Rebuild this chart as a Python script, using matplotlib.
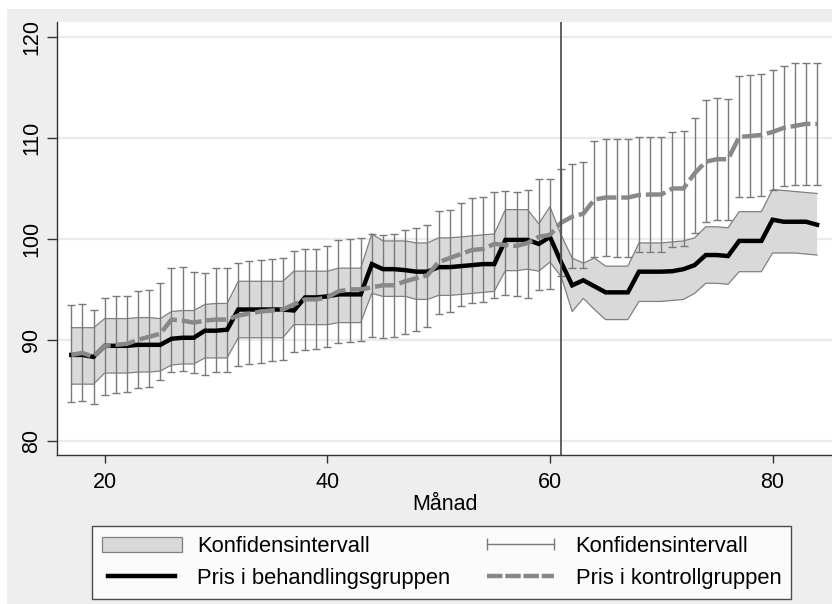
import numpy as np
import matplotlib
matplotlib.use("Agg")
import matplotlib.pyplot as plt
from matplotlib.lines import Line2D
from matplotlib.patches import Patch, Rectangle

plt.rcParams['font.family'] = ['Liberation Sans', 'DejaVu Sans']

# months 17..84
manad = np.arange(17, 85)

# treatment group (black line) and its confidence band
behandling = [88.5, 88.5, 88.3, 89.4, 89.4, 89.4, 89.5, 89.5, 89.5, 90.1,
              90.2, 90.2, 90.9, 90.9, 91.0, 93.0, 93.0, 93.0, 93.0, 93.0,
              92.9, 94.2, 94.2, 94.3, 94.5, 94.5, 94.5, 97.5, 97.0, 97.0,
              96.9, 96.75, 96.75, 97.2, 97.2, 97.3, 97.4, 97.5, 97.5, 99.9,
              99.9, 99.9, 99.5, 100.2, 97.7, 95.4, 95.9, 95.3, 94.7, 94.7,
              94.7, 96.75, 96.75, 96.75, 96.8, 97.0, 97.4, 98.4, 98.4, 98.3,
              99.8, 99.8, 99.8, 101.9, 101.7, 101.7, 101.7, 101.4]
beh_lo = [85.6, 85.6, 85.6, 86.7, 86.7, 86.7, 86.8, 86.8, 86.9, 87.5,
          87.6, 87.6, 88.2, 88.2, 88.2, 90.2, 90.2, 90.2, 90.2, 90.2,
          91.5, 91.5, 91.5, 91.5, 91.7, 91.7, 91.7, 94.6, 94.3, 94.3,
          94.3, 94.0, 94.0, 94.4, 94.4, 94.5, 94.6, 94.7, 94.8, 96.85,
          96.85, 97.0, 96.8, 97.7, 96.3, 92.8, 94.1, 93.0, 92.0, 92.0,
          92.0, 93.8, 93.8, 93.8, 93.9, 94.0, 94.6, 95.6, 95.6, 95.5,
          96.75, 96.75, 96.75, 98.6, 98.6, 98.6, 98.5, 98.4]
beh_hi = [91.2, 91.2, 91.2, 92.1, 92.1, 92.1, 92.2, 92.2, 92.1, 92.8,
          92.9, 92.9, 93.5, 93.6, 93.6, 95.8, 95.8, 95.8, 95.8, 95.8,
          96.8, 96.8, 96.8, 96.8, 97.1, 97.1, 97.1, 100.5, 99.8, 99.8,
          99.8, 99.6, 99.6, 100.1, 100.1, 100.2, 100.3, 100.4, 100.5, 102.9,
          102.9, 102.9, 101.5, 103.2, 100.4, 98.1, 97.6, 98.1, 97.3, 97.3,
          97.3, 99.6, 99.6, 99.6, 99.7, 99.8, 100.1, 101.2, 101.2, 101.1,
          102.7, 102.7, 102.7, 104.9, 104.8, 104.7, 104.6, 104.5]

# control group (gray dashed) and its error bars
kontroll = [88.5, 88.7, 88.3, 89.4, 89.5, 89.6, 90.0, 90.3, 90.6, 92.0,
            91.9, 91.7, 91.9, 92.0, 92.0, 92.4, 92.6, 92.8, 92.9, 93.0,
            93.5, 94.0, 94.0, 94.2, 94.8, 95.0, 95.0, 95.2, 95.4, 95.4,
            95.8, 96.1, 96.4, 97.7, 98.1, 98.5, 98.9, 99.0, 99.5, 99.4,
            99.3, 99.6, 100.2, 100.4, 101.6, 102.2, 102.5, 103.9, 104.1, 104.1,
            104.1, 104.35, 104.4, 104.4, 105.0, 105.0, 106.5, 107.65, 107.9, 107.9,
            110.1, 110.2, 110.3, 110.6, 111.0, 111.2, 111.4, 111.4]
kon_lo = [83.8, 83.9, 83.6, 84.5, 84.7, 84.8, 85.2, 85.3, 86.0, 86.8,
          86.9, 86.7, 86.5, 86.8, 86.8, 87.4, 87.6, 87.7, 87.9, 88.0,
          88.8, 89.0, 89.1, 89.3, 89.7, 89.8, 89.9, 90.3, 90.2, 90.3,
          90.6, 90.9, 91.3, 92.6, 92.8, 93.3, 93.6, 93.7, 94.1, 94.4,
          94.3, 94.1, 94.9, 95.0, 96.3, 97.1, 97.1, 98.2, 98.3, 98.2,
          98.2, 98.7, 98.7, 98.7, 99.2, 99.3, 100.6, 101.7, 101.9, 101.9,
          104.2, 104.2, 104.3, 104.8, 105.2, 105.3, 105.3, 105.3]
kon_hi = [93.4, 93.5, 93.0, 94.1, 94.3, 94.3, 94.8, 94.9, 95.6, 97.1,
          97.2, 96.75, 96.6, 97.1, 97.1, 97.6, 97.8, 97.9, 98.0, 98.1,
          98.8, 99.0, 99.0, 99.3, 99.9, 100.0, 100.1, 100.5, 100.4, 100.5,
          100.9, 101.1, 101.4, 102.8, 102.9, 103.6, 104.1, 104.2, 104.6, 104.7,
          104.6, 104.8, 105.9, 105.9, 106.9, 107.4, 107.65, 109.7, 109.9, 109.9,
          109.9, 110.1, 110.1, 110.1, 110.6, 110.7, 111.95, 113.8, 114.0, 113.9,
          116.1, 116.2, 116.3, 116.7, 117.1, 117.4, 117.4, 117.4]

reform = 61
xticks = [20, 40, 60, 80]
yticks = [80, 90, 100, 110, 120]

kontroll = np.array(kontroll)
yerr = [kontroll - np.array(kon_lo), np.array(kon_hi) - kontroll]

fig = plt.figure(figsize=(8.32, 6.04), dpi=100, facecolor='#eeeeee')
# white strip along top/left edge of the original screenshot
fig.patches.append(Rectangle((0, 0.985), 1, 0.015, transform=fig.transFigure,
                             facecolor='white', edgecolor='none', zorder=-5))
fig.patches.append(Rectangle((0, 0), 0.0085, 1, transform=fig.transFigure,
                             facecolor='white', edgecolor='none', zorder=-5))

ax = fig.add_axes([0.0691, 0.2467, 0.9309, 0.7169])
ax.set_facecolor('white')

ax.fill_between(manad, beh_lo, beh_hi, facecolor='#d9d9d9', edgecolor='none', zorder=1)
ax.plot(manad, beh_lo, color='#808080', lw=0.9, zorder=2)
ax.plot(manad, beh_hi, color='#808080', lw=0.9, zorder=2)
ax.errorbar(manad, kontroll, yerr=yerr, fmt='none', ecolor='#7a7a7a',
            elinewidth=1.0, capsize=3, capthick=1.0, zorder=3)
ax.plot(manad, behandling, color='black', lw=3.2, solid_joinstyle='miter', zorder=4)
ax.plot(manad, kontroll, color='#888888', lw=3.2, dashes=(4.5, 1.1), zorder=5)
ax.axvline(reform, color='#555555', lw=1.3, zorder=6)

ax.set_xlim(15.76, 85.34)
ax.set_ylim(78.58, 121.5)
ax.set_xticks(xticks)
ax.set_yticks(yticks)
ax.set_yticklabels([str(t) for t in yticks], rotation=90, va='center')
ax.tick_params(axis='both', labelsize=15.5, color='#333333', width=1)
ax.tick_params(axis='x', length=6, pad=6)
ax.tick_params(axis='y', length=7, pad=4)
ax.yaxis.grid(True, color='#ebebeb', lw=1.6)
ax.set_axisbelow(True)
for s in ['top', 'right']:
    ax.spines[s].set_visible(False)
for s in ['left', 'bottom']:
    ax.spines[s].set_color('#333333')
    ax.spines[s].set_linewidth(1)
ax.set_xlabel('Månad', fontsize=15.5, labelpad=1)

h_band = Patch(facecolor='#d9d9d9', edgecolor='#808080', lw=0.9)
h_beh = Line2D([], [], color='black', lw=3.2)
h_err = Line2D([], [], color='#7a7a7a', lw=1.0, marker='|', markersize=8, markeredgewidth=1.0)
h_kon = Line2D([], [], color='#888888', lw=3.2, dashes=(3.5, 0.6))
leg = fig.legend([h_band, h_beh, h_err, h_kon],
                 ['Konfidensintervall', 'Pris i behandlingsgruppen',
                  'Konfidensintervall', 'Pris i kontrollgruppen'],
                 ncol=2, loc='upper left', numpoints=2,
                 bbox_to_anchor=(0.1106, 0.1291),
                 fontsize=15.8, handlelength=3.65, handletextpad=0.7,
                 labelspacing=0.5, borderaxespad=0, borderpad=0.45,
                 columnspacing=1.35, fancybox=False, frameon=True)
leg.get_frame().set_edgecolor('#222222')
leg.get_frame().set_linewidth(1)
leg.get_frame().set_facecolor('white')

plt.savefig('out.png', dpi=100, facecolor=fig.get_facecolor())
